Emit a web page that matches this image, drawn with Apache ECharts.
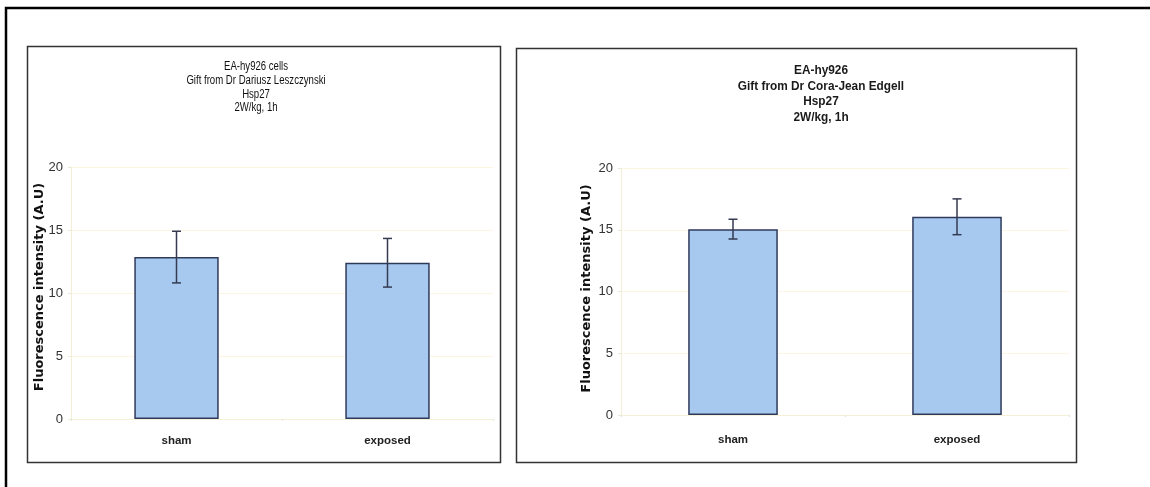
<!DOCTYPE html>
<html><head><meta charset="utf-8">
<script src="https://cdn.jsdelivr.net/npm/echarts@6/dist/echarts.min.js"></script>
<style>html,body{margin:0;padding:0;background:#fff}#c{width:1150px;height:487px}</style>
</head><body><div id="c"></div>
<script>
const categories = ['sham', 'exposed'];
const leftMeans = [12.85, 12.4];
const leftErrors = [2.05, 1.93];
const rightMeans = [15.05, 16.05];
const rightErrors = [0.8, 1.45];
const yTicks = [0, 5, 10, 15, 20];
const leftTitle = ['EA-hy926 cells', 'Gift from Dr Dariusz Leszczynski', 'Hsp27', '2W/kg, 1h'];
const rightTitle = ['EA-hy926', 'Gift from Dr Cora-Jean Edgell', 'Hsp27', '2W/kg, 1h'];
const yName = 'Fluorescence intensity (A.U)';

const sans = '"Liberation Sans", Arial, sans-serif';
const chart = echarts.init(document.getElementById('c'), null, {renderer: 'canvas'});

function yAxis(idx, gap, shift) {
  return {
    type: 'value', gridIndex: idx, min: yTicks[0], max: yTicks[yTicks.length - 1], interval: 5,
    name: yName, nameLocation: 'middle', nameGap: gap, nameRotate: 90, nameMoveOverlap: false,
    nameTextStyle: {fontFamily: '"DejaVu Sans", sans-serif', fontWeight: 'bold', fontSize: 13, color: '#111',
                    padding: [0, 0, 0, shift]},
    axisLine: {show: true, lineStyle: {color: '#f3eed6', width: 1}},
    axisTick: {show: true, length: 3, lineStyle: {color: '#e4ecd8'}},
    axisLabel: {fontFamily: sans, fontSize: 13, color: '#333', margin: 8},
    splitLine: {show: true, lineStyle: {color: '#fbf5e2', width: 1}}
  };
}
function xAxis(idx, margin) {
  return {
    type: 'category', gridIndex: idx, data: categories,
    axisLine: {show: true, lineStyle: {color: '#f6f0d8', width: 1}},
    axisTick: {show: true, length: 2, lineStyle: {color: '#dfe8d6'}},
    axisLabel: {fontFamily: sans, fontWeight: 'bold', fontSize: 11.5, color: '#222', margin: margin}
  };
}
function bars(idx, vals) {
  return {
    type: 'bar', xAxisIndex: idx, yAxisIndex: idx, data: vals, barWidth: '40%',
    itemStyle: {color: '#a8c9ef', borderColor: '#2e3a5c', borderWidth: 1.5},
    silent: true, animation: false, z: 2
  };
}
function errs(idx, vals, errsArr) {
  return {
    type: 'custom', xAxisIndex: idx, yAxisIndex: idx, animation: false, silent: true, z: 5,
    data: vals.map((v, i) => [i, v - errsArr[i], v + errsArr[i]]),
    renderItem: function (params, api) {
      const lo = api.coord([api.value(0), api.value(1)]);
      const hi = api.coord([api.value(0), api.value(2)]);
      const hw = 4.5;
      const st = {stroke: '#343a52', lineWidth: 1.5, fill: null};
      return {type: 'group', children: [
        {type: 'line', shape: {x1: hi[0], y1: hi[1], x2: lo[0], y2: lo[1]}, style: st},
        {type: 'line', shape: {x1: hi[0] - hw, y1: hi[1], x2: hi[0] + hw, y2: hi[1]}, style: st},
        {type: 'line', shape: {x1: lo[0] - hw, y1: lo[1], x2: lo[0] + hw, y2: lo[1]}, style: st}
      ]};
    }
  };
}

chart.setOption({
  animation: false,
  backgroundColor: '#fff',
  grid: [
    {left: 71, right: 657, top: 167, bottom: 68},
    {left: 621, right: 81, top: 168, bottom: 72}
  ],
  xAxis: [xAxis(0, 16), xAxis(1, 19)],
  yAxis: [yAxis(0, 24.5, 12), yAxis(1, 27.5, 6)],
  series: [bars(0, leftMeans), errs(0, leftMeans, leftErrors), bars(1, rightMeans), errs(1, rightMeans, rightErrors)],
  graphic: [
    {type: 'text', x: 256, y: 60, scaleX: 0.8, silent: true, z: 50,
     style: {text: leftTitle.join('\n'), x: 0, y: 0, textAlign: 'center', textVerticalAlign: 'top',
             fontFamily: sans, fontSize: 12, fontWeight: 'normal', lineHeight: 13.7, fill: '#111'}},
    {type: 'text', x: 821, y: 63, scaleX: 0.91, silent: true, z: 50,
     style: {text: rightTitle.join('\n'), x: 0, y: 0, textAlign: 'center', textVerticalAlign: 'top',
             fontFamily: sans, fontSize: 13, fontWeight: 'bold', lineHeight: 15.5, fill: '#1a1a1a'}},
    {type: 'rect', shape: {x: 6, y: 8, width: 1160, height: 500}, style: {fill: null, stroke: '#000', lineWidth: 2.5}, z: 100, silent: true},
    {type: 'rect', shape: {x: 27.5, y: 46.5, width: 473, height: 416}, style: {fill: null, stroke: '#333', lineWidth: 1.5}, z: 100, silent: true},
    {type: 'rect', shape: {x: 516.5, y: 48.5, width: 560, height: 414}, style: {fill: null, stroke: '#333', lineWidth: 1.5}, z: 100, silent: true}
  ]
});
</script></body></html>
